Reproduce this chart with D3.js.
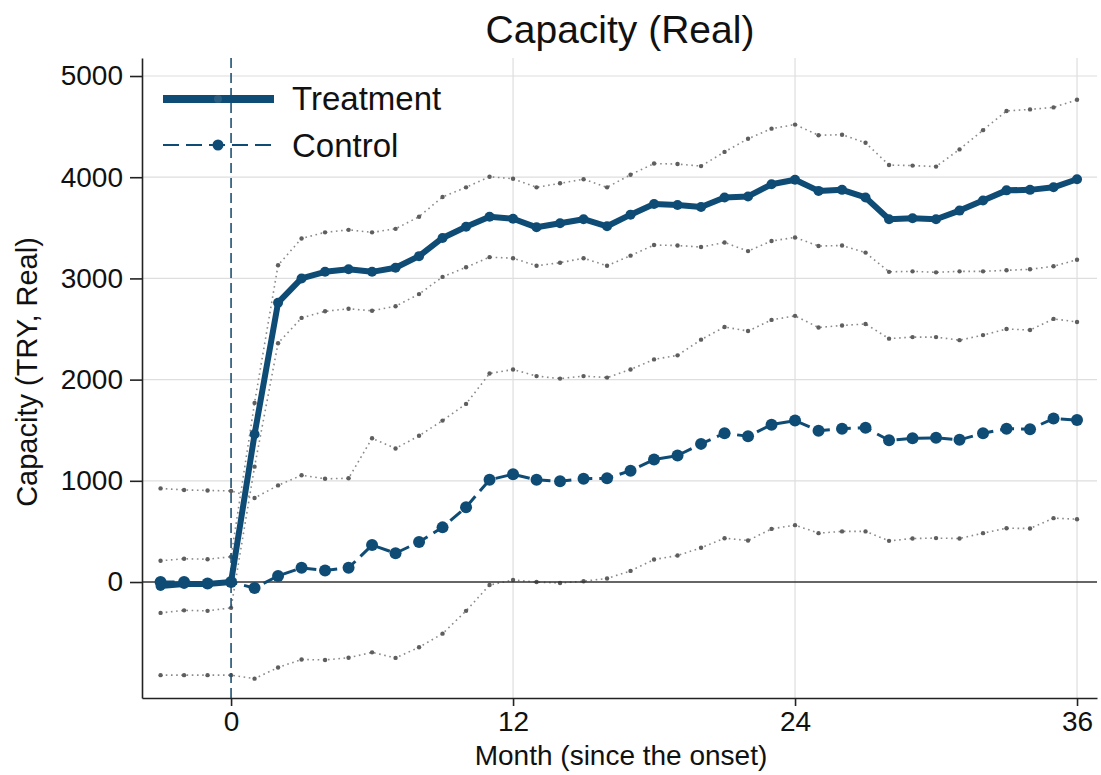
<!DOCTYPE html>
<html>
<head>
<meta charset="utf-8">
<script src="https://cdn.jsdelivr.net/npm/d3@7"></script>
<style>
    body { margin: 0; background: #fff; }
    text { font-family: "Liberation Sans", Arial, sans-serif; fill: #111; }
</style>
</head>
<body>
<div id="graph"></div>
<script>
// Données (mois -3 à 36)
const mois = d3.range(-3, 37);

const treatment = [-40, -20, -20, 0, 1460, 2760, 3000, 3065, 3090, 3065, 3105, 3220, 3400, 3510, 3610,
    3590, 3505, 3545, 3585, 3515, 3630, 3735, 3725, 3705, 3800, 3810, 3930, 3975, 3865, 3875, 3800,
    3585, 3595, 3585, 3670, 3770, 3870, 3875, 3900, 3980];

const control = [0, 0, -15, 0, -60, 60, 140, 115, 140, 365, 285, 395, 540, 740, 1010,
    1065, 1010, 995, 1020, 1025, 1100, 1210, 1250, 1365, 1470, 1440, 1555, 1595, 1495, 1515, 1525,
    1400, 1420, 1425, 1405, 1470, 1515, 1510, 1615, 1600];

const treatmentHaut = [210, 230, 225, 250, 1770, 3130, 3395, 3455, 3480, 3455, 3490, 3610, 3805, 3900, 4005,
    3985, 3900, 3940, 3980, 3900, 4025, 4135, 4130, 4110, 4250, 4380, 4480, 4520, 4415, 4420, 4340,
    4120, 4115, 4105, 4275, 4465, 4655, 4670, 4690, 4765];

const treatmentBas = [-305, -280, -285, -255, 1140, 2360, 2610, 2675, 2700, 2680, 2725, 2845, 3015, 3110, 3210,
    3200, 3125, 3155, 3200, 3125, 3225, 3330, 3325, 3310, 3355, 3270, 3370, 3405, 3320, 3325, 3255,
    3065, 3070, 3060, 3070, 3070, 3080, 3090, 3120, 3185];

const controlHaut = [925, 910, 905, 900, 830, 955, 1055, 1020, 1025, 1420, 1320, 1445, 1595, 1760, 2060,
    2100, 2035, 2010, 2035, 2020, 2100, 2200, 2240, 2395, 2520, 2480, 2590, 2630, 2515, 2535, 2550,
    2405, 2420, 2420, 2390, 2440, 2500, 2490, 2600, 2570];

const controlBas = [-920, -920, -920, -920, -955, -845, -765, -770, -748, -695, -750, -645, -510, -285, -30,
    20, 0, -10, 8, 35, 110, 222, 262, 338, 433, 410, 525, 562, 483, 500, 500,
    407, 430, 434, 430, 483, 532, 529, 631, 621];

const ticksX = [0, 12, 24, 36];
const ticksY = [0, 1000, 2000, 3000, 4000, 5000];
const grilleY = [1000, 2000, 3000, 4000, 5000];
const grilleX = [12, 24, 36];

const bleu = "#0f4c75";
const gris = "#8a8a8a";

dessinerGraphique();

function dessinerGraphique() {
    const width = 1101;
    const height = 775;
    const margin = { top: 58, right: 4, bottom: 77, left: 142 };

    const svg = d3.select("#graph").append("svg")
        .attr("width", width)
        .attr("height", height);

    const x = d3.scaleLinear().domain([-3.79, 36.85]).range([margin.left, width - margin.right]);
    const y = d3.scaleLinear().domain([-1146, 5178]).range([height - margin.bottom, margin.top]);

    // grille
    svg.append("g").selectAll("line")
        .data(grilleY)
        .enter().append("line")
        .attr("x1", x.range()[0]).attr("x2", x.range()[1])
        .attr("y1", d => y(d)).attr("y2", d => y(d))
        .attr("stroke", "#dedede").attr("stroke-width", 1.2);

    svg.append("g").selectAll("line")
        .data(grilleX)
        .enter().append("line")
        .attr("x1", d => x(d)).attr("x2", d => x(d))
        .attr("y1", y.range()[0]).attr("y2", y.range()[1])
        .attr("stroke", "#dedede").attr("stroke-width", 1.2);

    const ligne = d3.line()
        .x(d => x(d.m))
        .y(d => y(d.v));

    const toPoints = arr => arr.map((v, i) => ({ m: mois[i], v: v }));

    // intervalles de confiance (pointillés gris)
    [treatmentHaut, treatmentBas, controlHaut, controlBas].forEach(serie => {
        const pts = toPoints(serie);
        svg.append("path")
            .datum(pts)
            .attr("d", ligne)
            .attr("fill", "none")
            .attr("stroke", gris)
            .attr("stroke-width", 1.6)
            .attr("stroke-dasharray", "1.6,3.6");
        svg.append("g").selectAll("circle")
            .data(pts)
            .enter().append("circle")
            .attr("cx", d => x(d.m))
            .attr("cy", d => y(d.v))
            .attr("r", 2.2)
            .attr("fill", "#5e5e5e");
    });

    // ligne zéro
    svg.append("line")
        .attr("x1", x.range()[0]).attr("x2", x.range()[1])
        .attr("y1", y(0)).attr("y2", y(0))
        .attr("stroke", "#333").attr("stroke-width", 1.5);

    // ligne verticale au début
    svg.append("line")
        .attr("x1", x(0)).attr("x2", x(0))
        .attr("y1", y.range()[1]).attr("y2", y.range()[0])
        .attr("stroke", "#1f5274").attr("stroke-width", 1.6)
        .attr("stroke-dasharray", "10,5");

    // Control
    const ptsControl = toPoints(control);
    svg.append("path")
        .datum(ptsControl)
        .attr("d", ligne)
        .attr("fill", "none")
        .attr("stroke", bleu)
        .attr("stroke-width", 3)
        .attr("stroke-dasharray", "14,7");
    svg.append("g").selectAll("circle")
        .data(ptsControl)
        .enter().append("circle")
        .attr("cx", d => x(d.m))
        .attr("cy", d => y(d.v))
        .attr("r", 6)
        .attr("fill", bleu);

    // Treatment
    const ptsTreatment = toPoints(treatment);
    svg.append("path")
        .datum(ptsTreatment)
        .attr("d", ligne)
        .attr("fill", "none")
        .attr("stroke", bleu)
        .attr("stroke-width", 6)
        .attr("stroke-linejoin", "round");
    svg.append("g").selectAll("circle")
        .data(ptsTreatment)
        .enter().append("circle")
        .attr("cx", d => x(d.m))
        .attr("cy", d => y(d.v))
        .attr("r", 5)
        .attr("fill", bleu);

    // axes
    const axeY = svg.append("g")
        .attr("transform", `translate(${margin.left},0)`)
        .call(d3.axisLeft(y).tickValues(ticksY).tickFormat(d3.format("d"))
            .tickSize(12).tickSizeOuter(0).tickPadding(7));
    axeY.selectAll("text").style("font-size", "28px").attr("fill", "#111");

    const axeX = svg.append("g")
        .attr("transform", `translate(0,${height - margin.bottom})`)
        .call(d3.axisBottom(x).tickValues(ticksX).tickFormat(d3.format("d"))
            .tickSize(8).tickSizeOuter(0).tickPadding(5));
    axeX.selectAll("text").style("font-size", "28px").attr("fill", "#111");

    svg.selectAll(".domain").attr("stroke", "#222").attr("stroke-width", 1.6);
    svg.selectAll(".tick line").attr("stroke", "#222").attr("stroke-width", 1.6);

    // titres
    svg.append("text")
        .attr("x", 620).attr("y", 43)
        .attr("text-anchor", "middle")
        .style("font-size", "39px")
        .text("Capacity (Real)");

    svg.append("text")
        .attr("x", 621).attr("y", 765)
        .attr("text-anchor", "middle")
        .style("font-size", "28px")
        .text("Month (since the onset)");

    svg.append("text")
        .attr("transform", "translate(37,372) rotate(-90)")
        .attr("text-anchor", "middle")
        .style("font-size", "29px")
        .text("Capacity (TRY, Real)");

    // légende
    const leg = svg.append("g");
    leg.append("line")
        .attr("x1", 163).attr("x2", 274).attr("y1", 99).attr("y2", 99)
        .attr("stroke", bleu).attr("stroke-width", 8);
    leg.append("circle").attr("cx", 218).attr("cy", 99).attr("r", 4).attr("fill", "#2a5d80");
    leg.append("text").attr("x", 292).attr("y", 110).style("font-size", "33px").text("Treatment");

    leg.append("line")
        .attr("x1", 163).attr("x2", 274).attr("y1", 145).attr("y2", 145)
        .attr("stroke", bleu).attr("stroke-width", 2)
        .attr("stroke-dasharray", "16,7");
    leg.append("circle").attr("cx", 218).attr("cy", 145).attr("r", 5.5).attr("fill", bleu);
    leg.append("text").attr("x", 292).attr("y", 157).style("font-size", "33px").text("Control");
}
</script>
</body>
</html>
